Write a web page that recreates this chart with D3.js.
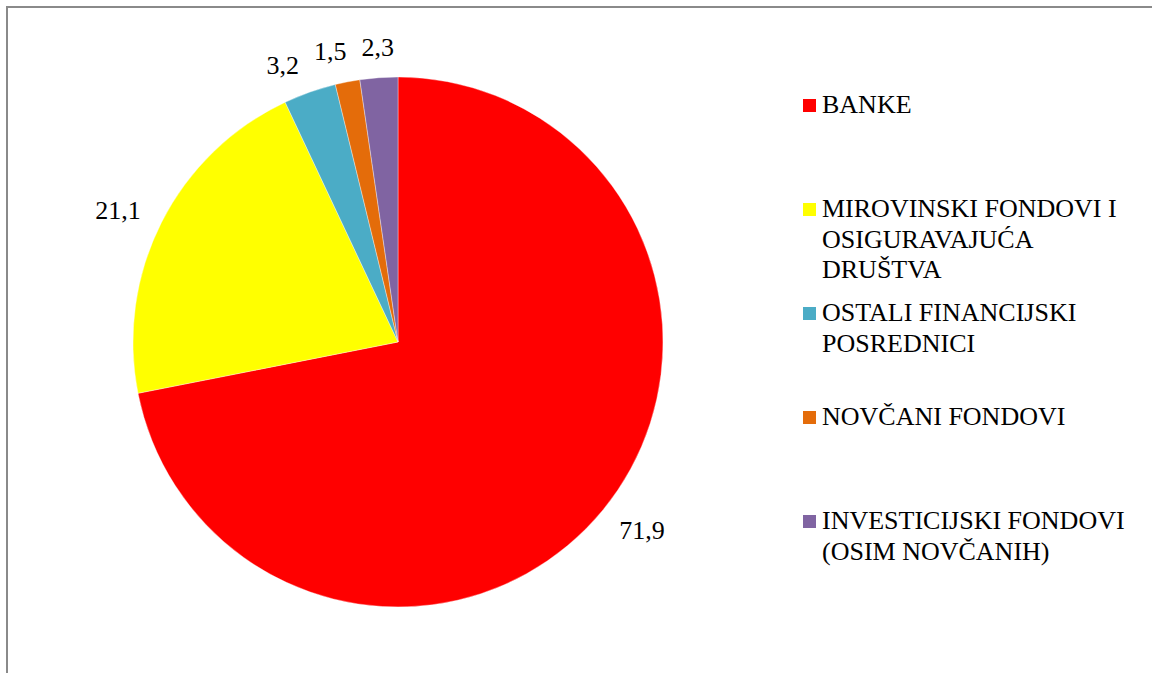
<!DOCTYPE html>
<html>
<head>
<meta charset="utf-8">
<script src="https://cdn.jsdelivr.net/npm/d3@7"></script>
<style>
  html, body { margin: 0; padding: 0; background: #fff; }
  svg { display: block; }
  .lbl, .legtext { font-family: "Liberation Serif", "Times New Roman", serif; }
</style>
</head>
<body>
<svg id="chart" width="1152" height="673"></svg>
<script>
// ---- data ----
const categories = [
  "BANKE",
  "MIROVINSKI FONDOVI I OSIGURAVAJUĆA DRUŠTVA",
  "OSTALI FINANCIJSKI POSREDNICI",
  "NOVČANI FONDOVI",
  "INVESTICIJSKI FONDOVI (OSIM NOVČANIH)"
];
const values = [71.9, 21.1, 3.2, 1.5, 2.3];
const colors = ["#FF0000", "#FFFF00", "#4BACC6", "#E46C0A", "#8064A2"];

// ---- layout ----
const W = 1152, H = 673;
const cx = 398, cy = 342, R = 265;
const fontSize = 26;

const svg = d3.select("#chart");

svg.append("rect")
  .attr("x", 7).attr("y", 7)
  .attr("width", W + 20).attr("height", H + 20)
  .attr("fill", "none")
  .attr("stroke", "#8a8a8a")
  .attr("stroke-width", 2);

const pie = d3.pie().sort(null).value(d => d)
  .startAngle(0).endAngle(2 * Math.PI);
const arcs = pie(values);
const arc = d3.arc().innerRadius(0).outerRadius(R);

const g = svg.append("g").attr("transform", `translate(${cx},${cy})`);

g.selectAll("path.slice")
  .data(arcs)
  .join("path")
  .attr("class", "slice")
  .attr("d", arc)
  .attr("fill", (d, i) => colors[i])
  .attr("stroke", "#ffffff")
  .attr("stroke-opacity", 0.6)
  .attr("stroke-width", 0.6);

// ---- data labels (outside end, with simple collision spreading) ----
const fmt = v => d3.format(".1f")(v).replace(".", ",");
const gap = 19.5, halfH = 10, minGap = 15, angleShift = -1.7 * Math.PI / 180;

const lbls = g.selectAll("text.lbl")
  .data(arcs)
  .join("text")
  .attr("class", "lbl")
  .attr("font-size", fontSize)
  .attr("fill", "#000")
  .attr("text-anchor", "middle")
  .text(d => fmt(d.data));

function posAt(a, w) {
  const sx = Math.sin(a), sy = -Math.cos(a);
  const dist = R + gap + Math.abs(sx) * w / 2 + Math.abs(sy) * halfH;
  return { x: sx * dist, y: sy * dist };
}

const L = [];
lbls.each(function(d) {
  const w = this.getComputedTextLength();
  const a = (d.startAngle + d.endAngle) / 2 + angleShift;
  const p = posAt(a, w);
  L.push({ node: this, a, w, x: p.x, y: p.y });
});

// group consecutive labels that collide
const clusters = [];
let cur = [L[0]];
for (let i = 1; i < L.length; i++) {
  const p = cur[cur.length - 1], q = L[i];
  const vOverlap = Math.abs(p.y - q.y) < 2 * halfH + 4;
  const hGap = Math.abs(q.x - p.x) - (p.w + q.w) / 2;
  if (vOverlap && hGap < minGap) cur.push(q);
  else { clusters.push(cur); cur = [q]; }
}
clusters.push(cur);

clusters.forEach(c => {
  if (c.length < 2) return;
  const dir = Math.sign(c[c.length - 1].x - c[0].x) || 1;
  const offs = [0];
  for (let i = 1; i < c.length; i++) offs.push(offs[i - 1] + dir * ((c[i - 1].w + c[i].w) / 2 + minGap));
  const meanX = d3.mean(c, l => l.x), meanOff = d3.mean(offs);
  c.forEach((l, i) => {
    const target = meanX + offs[i] - meanOff;
    let lo = l.a - 0.6, hi = l.a + 0.6;
    const inc = posAt(hi, l.w).x > posAt(lo, l.w).x;
    for (let k = 0; k < 40; k++) {
      const mid = (lo + hi) / 2;
      const x = posAt(mid, l.w).x;
      if ((x < target) === inc) lo = mid; else hi = mid;
    }
    l.a = (lo + hi) / 2;
    const p = posAt(l.a, l.w);
    l.x = p.x; l.y = p.y;
  });
});

L.forEach(l => {
  d3.select(l.node)
    .attr("x", l.x)
    .attr("y", l.y + fontSize * 0.33);
});

// ---- legend ----
const legX = 803, legTextX = 822, legTop = 113, legStep = 104, lineH = 30.7, maxW = 318;
const leg = svg.append("g");
categories.forEach((cat, i) => {
  const base = legTop + i * legStep;
  leg.append("rect")
    .attr("x", legX).attr("y", base - 14)
    .attr("width", 13).attr("height", 13)
    .attr("fill", colors[i]);
  const t = leg.append("text")
    .attr("class", "legtext")
    .attr("x", legTextX).attr("y", base)
    .attr("fill", "#000")
    .attr("font-size", fontSize);
  const words = cat.split(" ");
  let line = [];
  let lineNo = 0;
  let ts = t.append("tspan").attr("x", legTextX).attr("y", base);
  words.forEach(wd => {
    line.push(wd);
    ts.text(line.join(" "));
    if (ts.node().getComputedTextLength() > maxW && line.length > 1) {
      line.pop();
      ts.text(line.join(" "));
      line = [wd];
      lineNo++;
      ts = t.append("tspan").attr("x", legTextX).attr("y", base + lineNo * lineH).text(wd);
    }
  });
});
</script>
</body>
</html>
